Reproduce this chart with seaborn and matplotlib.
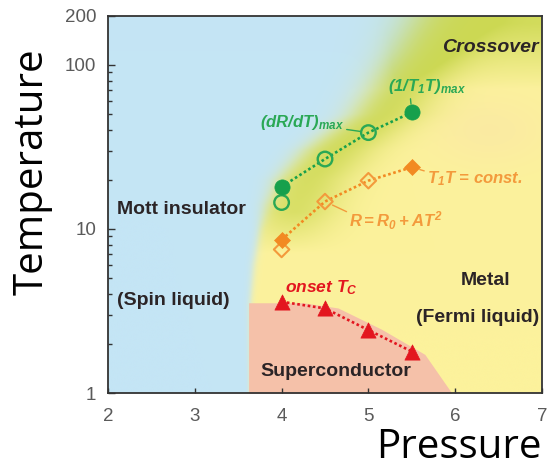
import numpy as np
import pandas as pd
import matplotlib
matplotlib.use("Agg")
import matplotlib.pyplot as plt
from matplotlib.colors import to_rgb
from matplotlib.ticker import FixedLocator, FixedFormatter, LogLocator, NullFormatter
import seaborn as sns

# ---------------- data ----------------
p_dRdT = [4.0, 4.5, 5.0]            # (dR/dT)max, open circles
t_dRdT = [14.5, 26.7, 38.7]
p_T1T_max = [4.0, 5.5]              # (1/T1T)max, filled circles
t_T1T_max = [18.1, 51.4]
p_AT2 = [4.0, 4.5, 5.0]             # R = R0 + AT^2, open diamonds
t_AT2 = [7.5, 14.7, 19.7]
p_T1T_const = [4.0, 5.5]            # T1T = const., filled diamonds
t_T1T_const = [8.6, 23.8]
p_onset = [4.0, 4.5, 5.0, 5.5]      # onset Tc, triangles
t_onset = [3.6, 3.28, 2.42, 1.79]

# phase boundaries
mott_T = [1, 3.5, 6, 10, 14, 20, 30, 50, 120, 200]
mott_P = [3.63, 3.64, 3.68, 3.75, 3.82, 3.95, 4.25, 4.8, 5.3, 5.55]
sc_P = [3.62, 4.25, 4.65, 5.15, 5.65, 5.96]
sc_T = [3.55, 3.55, 3.3, 2.45, 1.72, 1.0]

x_ticks = [2, 3, 4, 5, 6, 7]
y_ticks = [1, 10, 100, 200]
y_ticklabels = ["1", "10", "100", "200"]

# ---------------- style ----------------
GREEN = "#17a04c"
GREEN_T = "#2aa855"
ORANGE = "#f28a22"
ORANGE_T = "#f39a3c"
RED = "#e3161f"
BLUE = "#c4e5f5"
YELLOW = "#fcf29c"
GREENBG = "#c8d64c"
WARM = "#fae6a6"
SALMON = "#f5c1a9"

plt.rcParams["font.family"] = ["Liberation Sans", "DejaVu Sans"]
plt.rcParams["mathtext.fontset"] = "custom"
plt.rcParams["mathtext.rm"] = "Liberation Sans:bold:italic"
plt.rcParams["mathtext.it"] = "Liberation Sans:bold:italic"
plt.rcParams["mathtext.bf"] = "Liberation Sans:bold:italic"

W, H = 547, 469
fig = plt.figure(figsize=(W / 100, H / 100), dpi=100)
rect = [108 / W, 1 - 393 / H, (542 - 108) / W, (393 - 15.6) / H]

# ---------------- background shading ----------------
bg = fig.add_axes(rect, zorder=0)
Pg = np.linspace(2, 7, 800)
Lg = np.linspace(0, np.log10(200), 700)
PP, LL = np.meshgrid(Pg, Lg)
Pb = np.interp(LL, np.log10(mott_T), mott_P)
d = PP - Pb
w = np.interp(LL, [0, 1.0, 1.3, 2.31], [0.012, 0.03, 0.07, 0.17])
blue_w = 1 / (1 + np.exp(np.clip(d / w, -50, 50)))
g_amp = np.interp(LL, [0.85, 1.1, 1.5, 2.31], [0.0, 0.65, 0.8, 0.85])
g_prof = np.exp(-((d - 0.35) / 0.5) ** 2)
top = np.clip((LL - 1.85) / 0.4, 0, 1)
green_w = np.clip(g_amp * g_prof + 0.8 * top, 0, 0.92)
warm_w = 0.6 * np.exp(-((PP - 6.4) / 0.7) ** 2 - ((LL - 1.6) / 0.22) ** 2)


def mix(a, c, wgt):
    return a * (1 - wgt[..., None]) + np.array(to_rgb(c)) * wgt[..., None]


rgb = np.ones(PP.shape + (3,)) * np.array(to_rgb(YELLOW))
rgb = mix(rgb, WARM, warm_w)
rgb = mix(rgb, GREENBG, green_w)
rgb = mix(rgb, BLUE, blue_w)
bg.imshow(rgb, extent=[2, 7, 0, np.log10(200)], origin="lower", aspect="auto",
          interpolation="bilinear")
bg.set_xlim(2, 7)
bg.set_ylim(0, np.log10(200))
bg.axis("off")

# ---------------- main axes ----------------
ax = fig.add_axes(rect, zorder=1)
ax.set_facecolor("none")
ax.set_yscale("log")
ax.set_xlim(2, 7)
ax.set_ylim(1, 200)

# superconducting dome
ax.fill_between(sc_P, 1, sc_T, color=SALMON, lw=0, zorder=1)

# data frames
df_dRdT = pd.DataFrame({"P": p_dRdT, "Temp": t_dRdT})
df_T1Tmax = pd.DataFrame({"P": p_T1T_max, "Temp": t_T1T_max})
df_AT2 = pd.DataFrame({"P": p_AT2, "Temp": t_AT2})
df_T1Tc = pd.DataFrame({"P": p_T1T_const, "Temp": t_T1T_const})
df_onset = pd.DataFrame({"P": p_onset, "Temp": t_onset})

# dotted guides: filled point at 4 GPa, open points in between, filled at 5.5
g_line = pd.concat([df_T1Tmax, df_dRdT[df_dRdT.P > 4.0]]).sort_values("P")
o_line = pd.concat([df_T1Tc, df_AT2[df_AT2.P > 4.0]]).sort_values("P")

ls = (0, (1.0, 1.0))
sns.lineplot(data=g_line, x="P", y="Temp", ax=ax, color=GREEN, lw=1.9, linestyle=ls,
             sort=False, estimator=None, zorder=3)
sns.lineplot(data=o_line, x="P", y="Temp", ax=ax, color=ORANGE, lw=1.9, linestyle=ls,
             sort=False, estimator=None, zorder=3)
sns.lineplot(data=df_onset, x="P", y="Temp", ax=ax, color=RED, lw=1.9, linestyle=ls,
             sort=False, estimator=None, zorder=3)

sns.scatterplot(data=df_dRdT, x="P", y="Temp", ax=ax, marker="o", s=110, color=GREEN,
                facecolor="none", edgecolor=GREEN_T, linewidth=1.7, zorder=4)
sns.scatterplot(data=df_T1Tmax, x="P", y="Temp", ax=ax, marker="o", s=120, color=GREEN,
                edgecolor=GREEN, linewidth=0.5, zorder=5)
sns.scatterplot(data=df_AT2, x="P", y="Temp", ax=ax, marker="D", s=62, color=ORANGE,
                facecolor="none", edgecolor=ORANGE_T, linewidth=1.5, zorder=4)
sns.scatterplot(data=df_T1Tc, x="P", y="Temp", ax=ax, marker="D", s=66, color=ORANGE,
                edgecolor=ORANGE, linewidth=0.5, zorder=5)
sns.scatterplot(data=df_onset, x="P", y="Temp", ax=ax, marker="^", s=120, color=RED,
                edgecolor=RED, linewidth=0.5, zorder=5)

# ---------------- ticks / spines ----------------
ax.xaxis.set_major_locator(FixedLocator(x_ticks))
ax.set_xticklabels([str(v) for v in x_ticks])
ax.yaxis.set_major_locator(FixedLocator(y_ticks))
ax.yaxis.set_major_formatter(FixedFormatter(y_ticklabels))
ax.yaxis.set_minor_locator(LogLocator(base=10, subs=np.arange(2, 10)))
ax.yaxis.set_minor_formatter(NullFormatter())
ax.tick_params(which="both", direction="in", top=False, right=False,
               color="#333333", labelcolor="#5a5a5a", labelsize=13.5, width=1)
ax.tick_params(axis="y", which="major", length=5, pad=8.5)
ax.tick_params(axis="y", which="minor", length=3)
ax.tick_params(axis="x", which="major", length=3.5, pad=10.5)
for s in ax.spines.values():
    s.set_color("#333333")
    s.set_linewidth(1.3)
ax.set_xlabel("")
ax.set_ylabel("")

# ---------------- region labels ----------------
lab = dict(fontsize=14, fontweight="bold", color="#2b2426", zorder=6)
ax.text(6.965, 127, "Crossover", ha="right", va="center", style="italic", **lab)
ax.text(2.10, 13.2, "Mott insulator", ha="left", va="center", **lab)
ax.text(2.10, 3.69, "(Spin liquid)", ha="left", va="center", **lab)
ax.text(6.35, 4.83, "Metal", ha="center", va="center", **lab)
ax.text(6.965, 2.9, "(Fermi liquid)", ha="right", va="center", **lab)
ax.text(4.63, 1.36, "Superconductor", ha="center", va="center", **lab)

# ---------------- series labels ----------------
ann = dict(fontsize=12, fontweight="bold", style="italic", zorder=6)
ax.annotate(r"onset $T_C$", xy=(4.04, 4.13), ha="left", va="baseline",
            color=RED, fontsize=12.5, fontweight="bold", style="italic", zorder=6)
ax.annotate(r"$(dR/dT)_{\rm max}$", xy=(df_dRdT.P.iloc[2], df_dRdT.Temp.iloc[2]),
            xytext=(3.75, 41.9), textcoords="data", ha="left", va="baseline",
            color=GREEN_T,
            arrowprops=dict(arrowstyle="-", color=GREEN_T, lw=1, shrinkA=0, shrinkB=6,
                            relpos=(1.0, 0.15)), **ann)
ax.annotate(r"$(1/T_1T)_{\rm max}$", xy=(df_T1Tmax.P.iloc[1], df_T1Tmax.Temp.iloc[1]),
            xytext=(5.23, 69.4), textcoords="data", ha="left", va="baseline",
            color=GREEN_T,
            arrowprops=dict(arrowstyle="-", color=GREEN_T, lw=1, shrinkA=0, shrinkB=6,
                            relpos=(0.28, 0.0)), **ann)
ax.annotate(r"$T_1T$ = const.", xy=(df_T1Tc.P.iloc[1], df_T1Tc.Temp.iloc[1]),
            xytext=(5.675, 19.1), textcoords="data", ha="left", va="baseline",
            color=ORANGE_T,
            arrowprops=dict(arrowstyle="-", color=ORANGE_T, lw=1, shrinkA=0, shrinkB=6,
                            relpos=(0.0, 0.85)), **ann)
ax.annotate(r"$R = R_0 + AT^2$", xy=(df_AT2.P.iloc[1], df_AT2.Temp.iloc[1]),
            xytext=(4.78, 10.3), textcoords="data", ha="left", va="baseline",
            color=ORANGE_T,
            arrowprops=dict(arrowstyle="-", color=ORANGE_T, lw=1, shrinkA=0, shrinkB=6,
                            relpos=(0.0, 0.85)), **ann)

# ---------------- axis titles ----------------
fig.text(43 / W, 1 - 172 / H, "Temperature", rotation=90, rotation_mode="anchor",
         ha="center", va="baseline", fontsize=29, family=["Open Sans", "DejaVu Sans"],
         color="black")
fig.text(542 / W, 1 - 458 / H, "Pressure", ha="right", va="baseline", fontsize=29,
         family=["Open Sans", "DejaVu Sans"], color="black")

fig.savefig("out.png", dpi=100)
